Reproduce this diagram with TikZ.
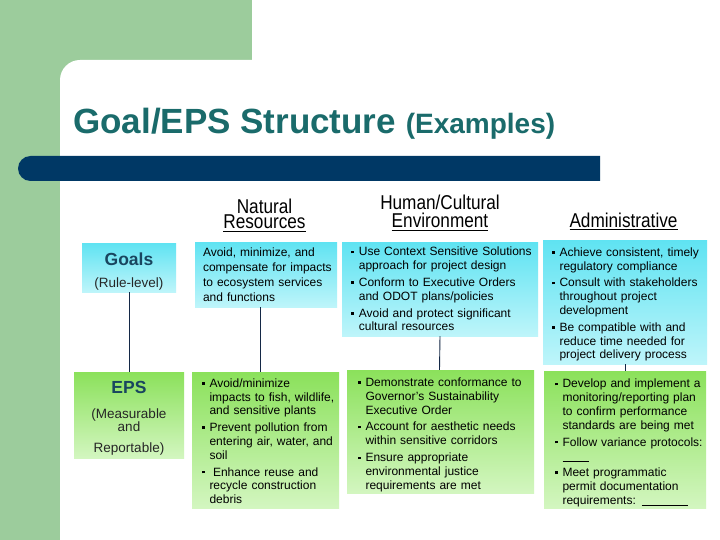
\documentclass[tikz,border=0pt]{standalone}
\usepackage{fontspec}
\setmainfont{Liberation Sans}
\usetikzlibrary{calc}
\definecolor{bggreen}{RGB}{156,204,156}
\definecolor{barblue}{RGB}{0,56,101}
\definecolor{titleteal}{RGB}{26,107,107}
\definecolor{cyantop}{RGB}{95,227,242}
\definecolor{cyanbot}{RGB}{190,245,250}
\definecolor{greentop}{RGB}{139,225,91}
\definecolor{greenbot}{RGB}{211,246,192}
\definecolor{linecol}{RGB}{20,40,70}
\definecolor{labcol}{RGB}{25,70,95}
\newcommand\bul{\makebox[7.5pt][l]{\raisebox{2.6pt}{\rule{2.6pt}{2.6pt}}}}
\newcommand\bfirst[1]{\leavevmode\hangindent=7.5pt\hangafter=1\bul#1}
\newcommand\bitem[1]{\par\bfirst{#1}}
\newcommand\myul[1]{\setbox0\hbox{#1}\rlap{\rule[-3.4pt]{\wd0}{1pt}}\box0}
\newcommand\narrow[1]{\scalebox{0.86}[1]{#1}}
\tikzset{
  cbox/.style={rectangle, inner sep=0pt, top color=cyantop, bottom color=cyanbot, draw=none},
  gbox/.style={rectangle, inner sep=0pt, top color=greentop, bottom color=greenbot, draw=none},
  conn/.style={draw=linecol, line width=0.9pt},
  txt/.style={anchor=north west, inner sep=0pt, text width=#1, align=left,
    font=\fontsize{12}{13.8}\selectfont},
  head/.style={anchor=base, inner sep=0pt, font=\fontsize{20}{23}\selectfont},
  headtwo/.style={anchor=north, inner sep=0pt, align=center, font=\fontsize{20}{#1}\selectfont},
  lab/.style={anchor=base, inner sep=0pt, font=\fontsize{17.5}{20}\selectfont\bfseries, text=labcol},
  sub/.style={anchor=base, inner sep=0pt, font=\fontsize{13.5}{15}\selectfont, text=black!85}
}
\begin{document}
\begin{tikzpicture}[x=1pt,y=-1pt]
\useasboundingbox (0,0) rectangle (720,540);
% background
\fill[white] (0,0) rectangle (720,540);
\fill[bggreen] (0,0) rectangle (252,80);
\fill[bggreen] (0,0) rectangle (80,540);
\fill[white] (60,540) -- (60,80) arc[start angle=180, end angle=90, radius=20pt] -- (720,60) -- (720,540) -- cycle;
% title
\node[anchor=base west, inner sep=0pt, text=titleteal, font=\fontsize{35}{40}\selectfont\bfseries] (title) at (73,134)
  {Goal/EPS Structure {\fontsize{28}{30}\selectfont (Examples)}};
% bar
\fill[barblue] (600,156) -- (30.5,156) arc[start angle=90, end angle=270, radius=12.5pt] -- (600,181) -- cycle;
% column headers
\node[headtwo=15.5] (hN) at (264.5,198.4) {\narrow{Natural}\\\narrow{\myul{Resources}}};
\node[headtwo=18] (hH) at (440,194.9) {\narrow{Human/Cultural}\\\narrow{\myul{Environment}}};
\node[head] (hA) at (623.5,227) {\narrow{\myul{Administrative}}};
% boxes
\node[cbox, minimum width=94pt, minimum height=49pt] (goalL) at (129,267.5) {};
\node[cbox, minimum width=142pt, minimum height=65pt] (goalN) at (266,274.5) {};
\node[cbox, minimum width=196pt, minimum height=94pt] (goalH) at (440,289) {};
\node[cbox, minimum width=164pt, minimum height=124pt] (goalA) at (625,302) {};
\node[gbox, minimum width=110pt, minimum height=86pt] (epsL) at (129,415) {};
\node[gbox, minimum width=147pt, minimum height=136pt] (epsN) at (265.5,440) {};
\node[gbox, minimum width=187pt, minimum height=123pt] (epsH) at (440.5,431.5) {};
\node[gbox, minimum width=162pt, minimum height=137pt] (epsA) at (625,439.5) {};
% connectors
\draw[conn] (goalL.south) -- (epsL.north);
\draw[conn] ([xshift=-6pt]goalN.south) -- ([xshift=-5.5pt]epsN.north);
\draw[conn] (goalH.south) -- ([xshift=-1pt]epsH.north);
\draw[conn] (goalA.south) -- (epsA.north);
% row labels
\node[lab] (gl1) at (129,265.5) {Goals};
\node[sub] (gl2) at (129,287) {(Rule-level)};
\node[lab] (el1) at (129,393.5) {EPS};
\node[sub] (el2) at (129,418) {(Measurable};
\node[sub] (el3) at (129,431) {and};
\node[sub] (el4) at (129,452) {Reportable)};
% box texts
\node[txt=136pt, font=\fontsize{12}{14.7}\selectfont] (tN) at ($(goalN.north west)+(8pt,-6.3pt)$)
  {Avoid, minimize, and\newline compensate for impacts\newline to ecosystem services\newline and functions};
\node[txt=188pt] (tH) at ($(goalH.north west)+(9.4pt,-5.3pt)$)
  {\setlength{\parskip}{3pt}%
   \bfirst{Use Context Sensitive Solutions\newline approach for project design}
   \bitem{Conform to Executive Orders\newline and ODOT plans/policies}
   \bitem{Avoid and protect significant\newline cultural resources}\par};
\node[txt=155pt] (tA) at ($(goalA.north west)+(9pt,-7.6pt)$)
  {\setlength{\parskip}{3pt}%
   \bfirst{Achieve consistent, timely\newline regulatory compliance}
   \bitem{Consult with stakeholders\newline throughout project\newline development}
   \bitem{Be compatible with and\newline reduce time needed for\newline project delivery process}\par};
\node[txt=137pt] (eN) at ($(epsN.north west)+(10pt,-6.6pt)$)
  {\setlength{\parskip}{3pt}%
   \bfirst{Avoid/minimize\newline impacts to fish, wildlife,\newline and sensitive plants}
   \bitem{Prevent pollution from\newline entering air, water, and\newline soil}
   \bitem{\hspace{3.5pt}Enhance reuse and\newline recycle construction\newline debris}\par};
\node[txt=176pt, font=\fontsize{12}{13.9}\selectfont] (eH) at ($(epsH.north west)+(11pt,-7.6pt)$)
  {\setlength{\parskip}{3pt}%
   \bfirst{Demonstrate conformance to\newline Governor's Sustainability\newline Executive Order}
   \bitem{Account for aesthetic needs\newline within sensitive corridors}
   \bitem{Ensure appropriate\newline environmental justice\newline requirements are met}\par};
\node[txt=151pt] (eA) at ($(epsA.north west)+(11pt,-8.2pt)$)
  {\setlength{\parskip}{3pt}%
   \bfirst{Develop and implement a\newline monitoring/reporting plan\newline to confirm performance\newline standards are being met}
   \bitem{Follow variance protocols:\newline \rule[-1.5pt]{26pt}{0.8pt}}
   \bitem{Meet programmatic\newline permit documentation\newline requirements: \rule[-1.5pt]{46pt}{0.8pt}}\par};
\end{tikzpicture}
\end{document}
